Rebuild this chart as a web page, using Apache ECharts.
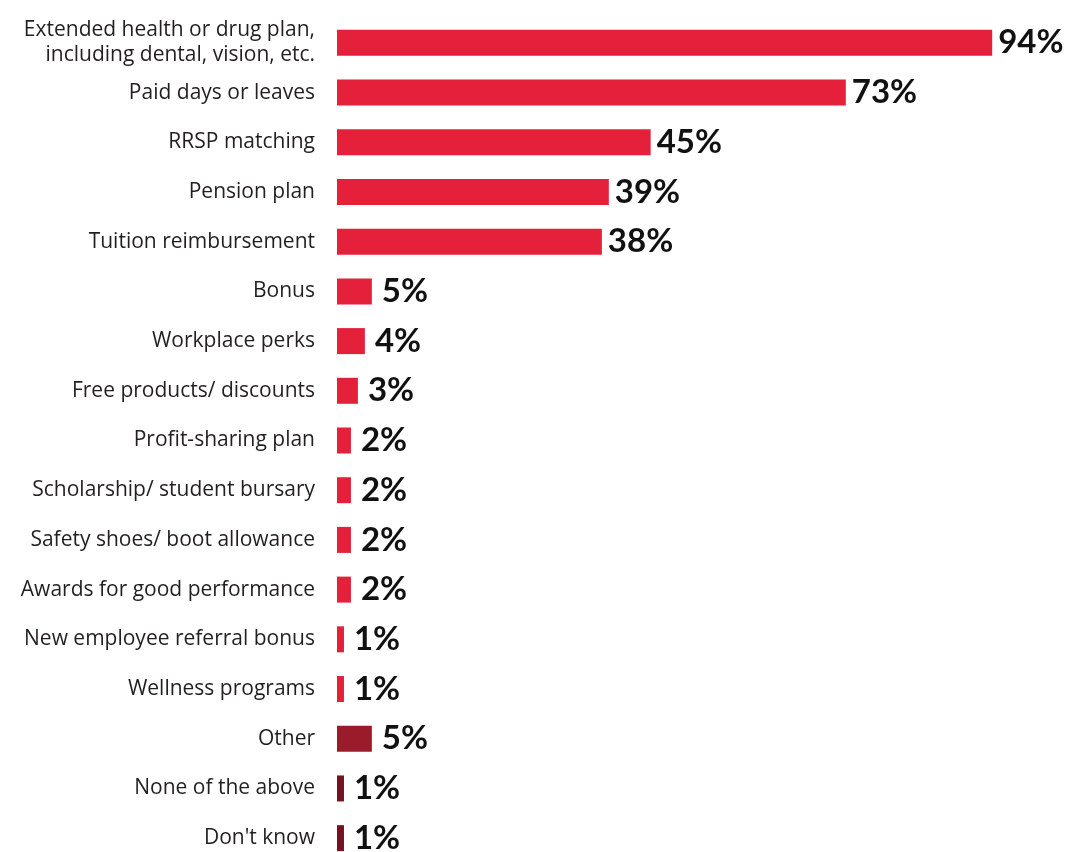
<!DOCTYPE html>
<html>
<head>
<meta charset="utf-8">
<script src="https://cdn.jsdelivr.net/npm/echarts@6/dist/echarts.min.js"></script>
<style>
  html, body { margin: 0; padding: 0; background: #ffffff; }
  #chart { width: 1072px; height: 852px; }
</style>
</head>
<body>
<div id="chart"></div>
<script>
// Employee benefits offered, share of respondents (%)
const categories = [
  'Extended health or drug plan,\nincluding dental, vision, etc.',
  'Paid days or leaves',
  'RRSP matching',
  'Pension plan',
  'Tuition reimbursement',
  'Bonus',
  'Workplace perks',
  'Free products/ discounts',
  'Profit-sharing plan',
  'Scholarship/ student bursary',
  'Safety shoes/ boot allowance',
  'Awards for good performance',
  'New employee referral bonus',
  'Wellness programs',
  'Other',
  'None of the above',
  "Don't know"
];
const values = [94, 73, 45, 39, 38, 5, 4, 3, 2, 2, 2, 2, 1, 1, 5, 1, 1];
// Response group per row: listed benefit, other, no benefit / unsure
const groups = ['benefit', 'benefit', 'benefit', 'benefit', 'benefit', 'benefit', 'benefit',
  'benefit', 'benefit', 'benefit', 'benefit', 'benefit', 'benefit', 'benefit',
  'other', 'none', 'none'];

const groupColors = { benefit: '#E4203A', other: '#9C1B2B', none: '#741221' };

const chart = echarts.init(document.getElementById('chart'), null, { renderer: 'canvas' });

chart.setOption({
  animation: false,
  backgroundColor: '#ffffff',
  grid: {
    left: 337, top: 18, width: 697, height: 845,
    containLabel: false,
    outerBoundsMode: 'none'
  },
  xAxis: {
    type: 'value',
    min: 0,
    max: 100,
    show: false
  },
  yAxis: {
    type: 'category',
    data: categories,
    inverse: true,
    axisLine: { show: false },
    axisTick: { show: false },
    axisLabel: {
      margin: 22,
      color: '#231f20',
      fontFamily: 'Open Sans',
      fontSize: 21,
      lineHeight: 25,
      align: 'right'
    }
  },
  series: [{
    type: 'bar',
    barWidth: 26,
    data: values.map((v, i) => ({
      value: v,
      itemStyle: { color: groupColors[groups[i]] },
      label: { distance: v >= 10 ? 6 : 10 }
    })),
    label: {
      show: true,
      position: 'right',
      formatter: '{c}%',
      color: '#111111',
      fontFamily: 'Lato',
      fontWeight: 'bold',
      fontSize: 33
    }
  }]
});
</script>
</body>
</html>
